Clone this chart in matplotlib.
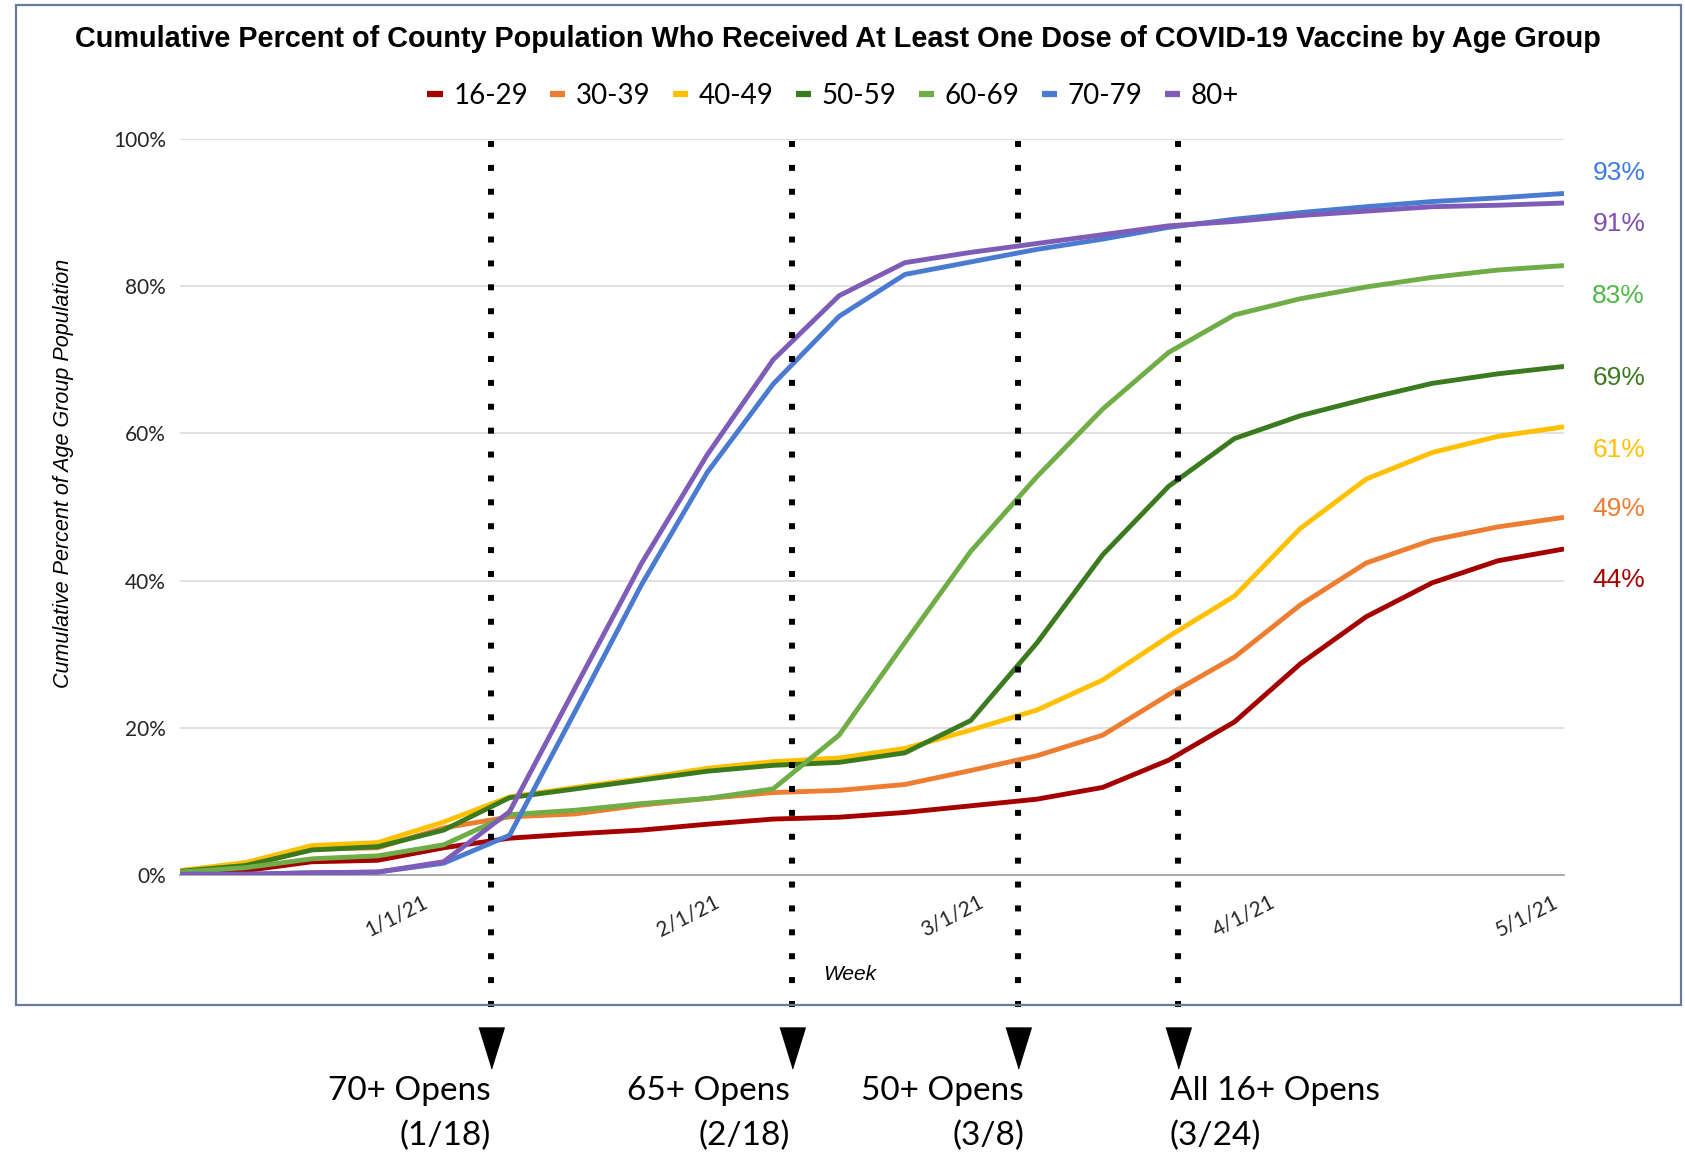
import matplotlib
matplotlib.use("Agg")
import matplotlib.pyplot as plt
import matplotlib.dates as mdates
import matplotlib.transforms as mtransforms
from matplotlib.patches import Rectangle
from matplotlib.lines import Line2D
import pandas as pd

# ---------------- data ----------------
start_date = "2020-12-09"
n_weeks = 22
age_groups = ["16-29", "30-39", "40-49", "50-59", "60-69", "70-79", "80+"]

v_16_29 = [0.3, 0.6, 1.8, 2.0, 3.7, 5.0, 5.6, 6.1, 6.9, 7.6, 7.85, 8.5, 9.4, 10.3, 11.9, 15.6, 20.8, 28.7, 35.1, 39.7, 42.7, 44.3]
v_30_39 = [0.5, 1.2, 3.5, 3.7, 6.4, 7.9, 8.3, 9.5, 10.4, 11.2, 11.5, 12.3, 14.2, 16.2, 19.0, 24.5, 29.6, 36.7, 42.4, 45.5, 47.3, 48.6]
v_40_49 = [0.6, 1.7, 4.0, 4.4, 7.2, 10.6, 11.9, 13.1, 14.5, 15.4, 15.9, 17.2, 19.7, 22.4, 26.5, 32.4, 37.9, 47.1, 53.8, 57.4, 59.6, 60.9]
v_50_59 = [0.5, 1.3, 3.4, 3.85, 6.1, 10.5, 11.7, 12.9, 14.1, 14.9, 15.3, 16.6, 21.0, 31.5, 43.5, 52.8, 59.3, 62.4, 64.7, 66.8, 68.1, 69.1]
v_60_69 = [0.4, 1.0, 2.2, 2.6, 4.1, 8.2, 8.8, 9.7, 10.4, 11.7, 19.0, 31.6, 44.0, 54.1, 63.3, 71.0, 76.1, 78.3, 79.9, 81.2, 82.2, 82.8]
v_70_79 = [0.1, 0.1, 0.3, 0.4, 1.6, 5.4, 22.3, 39.4, 54.7, 66.7, 75.9, 81.6, 83.3, 85.0, 86.4, 88.0, 89.1, 90.0, 90.8, 91.5, 92.0, 92.6]
v_80_plus = [0.1, 0.1, 0.3, 0.4, 1.8, 8.6, 25.5, 42.3, 57.1, 70.0, 78.7, 83.2, 84.6, 85.8, 87.0, 88.2, 88.8, 89.6, 90.2, 90.8, 91.0, 91.3]

series_values = [v_16_29, v_30_39, v_40_49, v_50_59, v_60_69, v_70_79, v_80_plus]
line_colors = ["#A50000", "#ED7D31", "#FFC000", "#3B7A1F", "#70AD47", "#4A7BD0", "#7E5CB8"]
end_label_colors = ["#A50000", "#ED7D31", "#FFC000", "#3B7A1F", "#4DB848", "#3D7BE0", "#7B4FB0"]
end_label_y = [40.1, 49.7, 57.7, 67.5, 78.7, 95.4, 88.4]

y_ticks = [0, 20, 40, 60, 80, 100]
month_ticks = ["2021-01-01", "2021-02-01", "2021-03-01", "2021-04-01", "2021-05-01"]

open_dates = ["2021-01-11", "2021-02-12", "2021-03-08", "2021-03-25"]
open_line1 = ["70+ Opens", "65+ Opens", "50+ Opens", "All 16+ Opens"]
open_line2 = ["(1/18)", "(2/18)", "(3/8)", "(3/24)"]
open_align = ["right", "right", "right", "left"]
open_dx = [0, -2, 6, -8]

# ---------------- figure ----------------
plt.rcParams["lines.solid_capstyle"] = "butt"
plt.rcParams["lines.solid_joinstyle"] = "round"

W, H = 1685, 1159
fig = plt.figure(figsize=(W / 100, H / 100), dpi=100)
fig.patch.set_facecolor("white")

# chart border
fig.patches.append(Rectangle((16 / W, 1 - 1005 / H), (1681 - 16) / W, (1005 - 5) / H,
                             transform=fig.transFigure, fill=False,
                             edgecolor="#6B7A99", linewidth=1.6, zorder=0))

ax = fig.add_axes([180 / W, 1 - 875 / H, 1384 / W, 736 / H])
dates = mdates.date2num(pd.date_range(start_date, periods=n_weeks, freq="7D").to_pydatetime())

for vals, col, name in zip(series_values, line_colors, age_groups):
    ax.plot(dates, vals, color=col, lw=3.5, label=name, zorder=3)

ax.set_xlim(dates[0], dates[-1])
ax.set_ylim(0, 100)
ax.set_yticks(y_ticks)
ax.set_yticklabels([f"{t}%" for t in y_ticks], fontfamily="Lato", fontsize=15, color="#262626")
ax.grid(axis="y", color="#D9D9D9", lw=1.1)
ax.set_axisbelow(True)
for s in ["left", "right", "top"]:
    ax.spines[s].set_visible(False)
ax.spines["bottom"].set_color("#A6A6A6")
ax.spines["bottom"].set_linewidth(1.3)
ax.tick_params(axis="y", length=0, pad=10)
ax.tick_params(axis="x", length=0, pad=12)

mt = pd.to_datetime(month_ticks)
ax.set_xticks(mdates.date2num(mt.to_pydatetime()))
ax.set_xticklabels([f"{d.month}/{d.day}/{d:%y}" for d in mt], rotation=27,
                   ha="center", fontfamily="Lato", fontsize=15, color="#262626")

# end labels
for vals, col, ly in zip(series_values, end_label_colors, end_label_y):
    ax.text(1.0205, ly, f"{round(vals[-1])}%", transform=ax.get_yaxis_transform(),
            color=col, fontsize=19, fontfamily="Liberation Sans", va="center", ha="left")

# vertical dotted markers with arrowheads
blend = mtransforms.blended_transform_factory(ax.transData, ax.transAxes)
tri = [(-0.31, 0.5), (0.31, 0.5), (0.0, -0.5)]
open_x = mdates.date2num(pd.to_datetime(open_dates).to_pydatetime())
for d, t1, t2, ha, dx in zip(open_x, open_line1, open_line2, open_align, open_dx):
    ax.add_line(Line2D([d, d], [0.997, -0.197], transform=blend, color="black", lw=4.3,
                       linestyle=(0, (1, 3)), dash_capstyle="butt", clip_on=False, zorder=6))
    ax.plot([d], [-0.235], transform=blend, marker=tri, markersize=29.5, color="black",
            clip_on=False, zorder=6, linestyle="none")
    ax.annotate(t1, xy=(d, 0), xycoords=blend, xytext=(dx, -216), textcoords="offset pixels",
                ha=ha, va="center", fontsize=24, fontfamily="Lato", color="black",
                annotation_clip=False)
    ax.annotate(t2, xy=(d, 0), xycoords=blend, xytext=(dx, -261), textcoords="offset pixels",
                ha=ha, va="center", fontsize=24, fontfamily="Lato", color="black",
                annotation_clip=False)

# titles and labels
fig.text(838 / W, 1 - 39 / H,
         "Cumulative Percent of County Population Who Received At Least One Dose of COVID-19 Vaccine by Age Group",
         ha="center", va="center", fontsize=20.8, fontweight="bold", fontfamily="Liberation Sans")
fig.text(63 / W, 1 - 473 / H, "Cumulative Percent of Age Group Population", rotation=90,
         ha="center", va="center", fontsize=15.5, style="italic", fontfamily="Liberation Sans")
fig.text(850 / W, 1 - 975 / H, "Week", ha="center", va="center", fontsize=15,
         style="italic", fontfamily="Liberation Sans")

leg = fig.legend(loc="center", bbox_to_anchor=(833 / W, 1 - 96 / H), ncol=7, frameon=False,
                 prop={"family": "Lato", "size": 20}, handlelength=0.55, handletextpad=0.38,
                 columnspacing=0.8)
for h in leg.get_lines():
    h.set_linewidth(4.5)

fig.savefig("out.png", dpi=100, facecolor="white")
